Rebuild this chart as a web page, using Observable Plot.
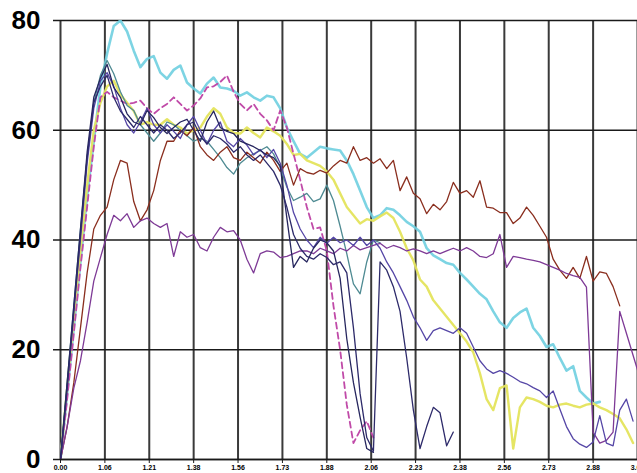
<!DOCTYPE html>
<html>
<head>
<meta charset="utf-8">
<script src="https://cdn.jsdelivr.net/npm/d3@7"></script>
<script src="https://cdn.jsdelivr.net/npm/@observablehq/plot@0.6"></script>
<style>
  html, body { margin: 0; padding: 0; background: #fff; }
</style>
</head>
<body>
<div id="chart"></div>
<script>
// x positions are sample indices on the category axis (one unit per labelled gridline)
const STEP = 0.15;
const xTickPositions = [0,1,2,3,4,5,6,7,8,9,10,11,12,13];
const xTickLabels = ["0.00","1.06","1.21","1.38","1.56","1.73","1.88","2.06","2.23","2.38","2.56","2.73","2.88","3.06"];
const yTicks = [0, 20, 40, 60, 80];

const cyan = [0,12,24,36,48,58,68,74,79,80, 78,74.5,71.5,73,73.5,70.5,69.4,71,71.8,68.7, 67.6,66.7,68.5,69.6,67.8,67.6,67.2,66.3,66.9,66, 65.4,66.3,66,64,60.5,58,55.7,55,56,57, 56.7,56.5,56.3,54.5,52,49,46,44,44.5,45.8, 45.5,44.5,43.3,42.5,41.5,38.5,37.2,36.5,35.8,35.5, 34,32.8,31.5,30.2,29.2,27,25,24,25.8,26.8, 27.5,24,22.5,20.5,21,18.5,16.2,17,12.5,11.3, 10.2,10.5];
const yellow = [0,13,26,38,50,60,65,68,69,66.5, 65,63.5,61,61.5,61,61,62,61,60.5,59.4, 60,60.5,62.5,64,63,60.5,59.5,59.4,60.5,59.5, 58.7,60.5,59.8,59,57.5,55.5,55.7,54.5,54,53.5, 52.5,51,48.5,46,44.5,43,43.8,43.5,44.3,45, 44,41.5,38.5,36.3,32.8,31.5,29,27.5,26,24.5, 23,21.5,19.5,15.7,11,9,13,13.5,2,9.5, 11.3,11,10.5,9.8,9.5,10,10.2,9.8,9.5,10, 10.2,9.5,9,8.3,7.5,5.5,3];
const magentaDashed = [0,11,23,35,46,57,66,67,66,65.4, 64.8,65,65.4,64,63,64,64.8,66,64.8,63.6, 64.5,65.8,67.8,68,68.8,70,67,64.8,63.6,64.8, 63,61.8,60,63.6,60.5,55.7,51,46,42,42.3, 38,28,20,10,3,5.3,7,4];
const brown = [0,6,14,24,34,42,44.5,46,51,54.5, 54,47,43.5,45.5,49,54.5,58,58,60,59, 60.5,57,55.5,54.5,56,57,55,54.5,56,55, 54,56,54.5,52.5,54,50,53,52.3,52,52.7, 52.2,53.5,54.5,54,57,54.5,55,54,54.8,53, 54.5,49,51.5,48.5,47.5,44.8,46.5,45.5,47,50.5, 48.5,49,47.8,50.8,46,45.8,45,45,43,44, 46,44.5,42.5,40.5,36.5,34.5,33,35,33,37, 32.5,34.2,33.9,31.5,28];
const purple = [0,6,13,18,25,32.5,36.8,41,44.5,43.5, 44.8,42.3,43.5,44,43,42.3,43,37,41.5,40.5, 41,38.6,38,40.5,42.3,41.5,41.7,40,36.5,34, 37.5,38,37.8,36.8,37,37.5,38,38,37.5,38.5, 38,37.5,38.5,38,39,38.2,38.6,39,39.4,38.5, 39,38.6,38,38.4,38,37.5,38,37.5,38,38.5, 38,38.6,38,37,36.8,37.5,41,35,37,36.8, 36.5,36.3,36,35.5,35,34.5,33.9,33.5,33.2,31.4, 5,3,3.5,5,27,23,19,15];
const navy = [0,14,28,42,56,66,69.5,72,67.8,66, 63,61.5,61,63.6,62.3,60.5,59.4,60.5,61.5,62, 60,58,61.5,63.5,60.5,59.8,59.4,58,57.5,57, 56.3,55.5,55,53.5,44,35,37,36,38.5,40, 39.5,38,33,22,14,7.7,2,1.3];
const navy2 = [0,13,27,41,55,65,68,70,66,63.5, 62,60.5,62.5,61,59.5,61,60,58.5,59.5,61, 61.5,59,57.5,59,58.5,57.5,56,57,55.5,54.5, 55.5,54,52.5,50,46,41,38.5,37,36.5,37.5, 36.8,35.5,36,34,24,12,4,1.5,36,34.5, 31.5,27,18.5,9,2,6,9.5,8.5,2.5,5];
const violet = [0,13,27,40,54,64,69,70.5,68,64, 61,59.5,61.5,64,61,59.5,61,59.8,58.5,61, 62.5,60,57.5,60,61.5,58,57,58.5,57.3,55.5, 56.5,55,56.5,54,50,45,42,40,38.6,40.5, 39.4,40.5,39.5,40,39,40.5,39,40,38.5,36, 34,31.5,29,26,24,21.7,23.5,24,23.5,23, 24,23,20.5,18,16.5,15.7,16.2,15.7,15,14.2, 13.8,13.1,12.5,11.3,12.5,9.2,6,3.8,2.8,2.2, 3.2,8,3,2.5,9,11,7];
const teal = [0,14,28,42,55,65,70,72.7,70.3,67, 64.5,63.6,61,59.5,58,59.5,61.5,61,60,59, 58,58.5,58,56.5,55,53.2,52,54,55,55.7, 56.3,57,55.7,53.2,49.6,47.2,47.8,48.5,47,47.5, 50,47.2,42.5,37.5,32,30.2,36,40,39.5];

const toPts = (arr) => arr.map((v, i) => ({x: i * STEP, y: v}));

const seriesStyles = [
  {data: cyan, stroke: "#6fcfe0", width: 2.6, opacity: 0.9},
  {data: yellow, stroke: "#e4e45c", width: 2.4, opacity: 0.95},
  {data: magentaDashed, stroke: "#c04aa8", width: 1.8, dash: "6,4"},
  {data: teal, stroke: "#4e8a92", width: 1.3},
  {data: brown, stroke: "#8a2e1e", width: 1.3},
  {data: purple, stroke: "#7e3a96", width: 1.3},
  {data: violet, stroke: "#5546a6", width: 1.3},
  {data: navy, stroke: "#26265e", width: 1.3},
  {data: navy2, stroke: "#2d2a6a", width: 1.3}
];

const chart = Plot.plot({
  width: 637,
  height: 473,
  marginLeft: 60,
  marginRight: 0,
  marginTop: 20,
  marginBottom: 14,
  style: {fontFamily: "'Liberation Sans', Arial, sans-serif", background: "#fff"},
  x: {domain: [0, 13], axis: null},
  y: {domain: [0, 80], axis: null},
  marks: [
    Plot.gridX(xTickPositions, {stroke: "#3a3a3a", strokeOpacity: 1, strokeWidth: 2}),
    Plot.gridY(yTicks, {stroke: "#1a1a1a", strokeOpacity: 1, strokeWidth: 1.5}),
    Plot.axisY(yTicks, {tickSize: 7, tickPadding: 13, fontSize: 26, fontWeight: "bold", stroke: "#1a1a1a", strokeWidth: 1.5, label: null}),
    Plot.axisX(xTickPositions, {tickSize: 4, tickPadding: 2, fontSize: 7, fontWeight: "bold", stroke: "#1a1a1a", tickFormat: (d) => xTickLabels[d], label: null}),
    ...seriesStyles.map(s => Plot.line(toPts(s.data), {
      x: "x", y: "y", stroke: s.stroke, strokeWidth: s.width,
      strokeOpacity: s.opacity ?? 1, strokeDasharray: s.dash, clip: true
    })),
    Plot.ruleY([0], {stroke: "#1a1a1a", strokeWidth: 1.5})
  ]
});
document.getElementById("chart").append(chart);
</script>
</body>
</html>
